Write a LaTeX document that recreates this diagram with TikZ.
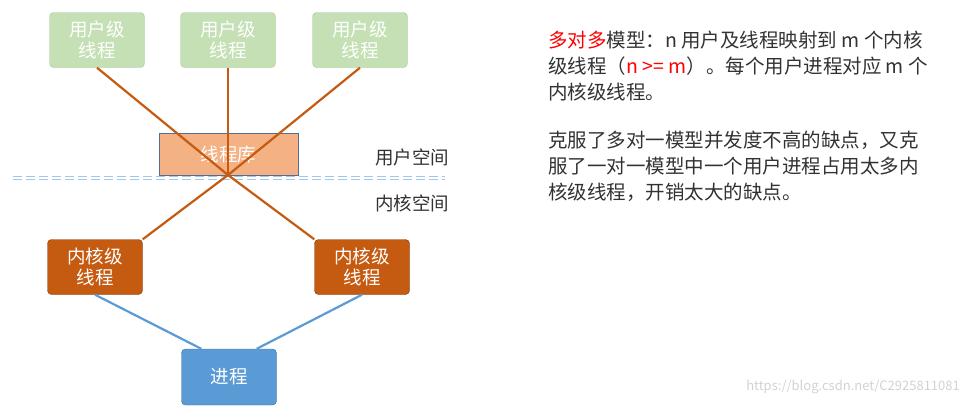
\documentclass[tikz,border=0pt]{standalone}
\usepackage{fontspec}
\setmainfont{Noto Sans CJK SC}
\begin{document}
\begin{tikzpicture}[x=1pt,y=-1pt,
 box/.style={draw,minimum width=95pt,minimum height=55pt,rounded corners=4pt,align=center,font=\fontsize{18.5}{21}\selectfont,inner sep=1pt},
 ubox/.style={box,fill={rgb,255:red,197;green,224;blue,180},draw={rgb,255:red,170;green,200;blue,160},text=white},
 kbox/.style={box,fill={rgb,255:red,197;green,90;blue,17},draw={rgb,255:red,120;green,60;blue,20},text=white},
 oline/.style={draw={rgb,255:red,197;green,90;blue,17},line width=2.2pt},
 bline/.style={draw={rgb,255:red,91;green,155;blue,213},line width=2.2pt},
 txt/.style={anchor=west,font=\fontsize{19.5}{22}\selectfont,text={rgb,255:red,50;green,50;blue,50},inner sep=0pt}]
\useasboundingbox (0,0) rectangle (968,416);
\node[ubox] (u1) at (97,40) {用户级\\线程};
\node[ubox] (u2) at (228,40) {用户级\\线程};
\node[ubox] (u3) at (360,40) {用户级\\线程};
\node[draw={rgb,255:red,80;green,110;blue,150},fill={rgb,255:red,244;green,177;blue,131},minimum width=139pt,minimum height=42pt,text=white,font=\fontsize{18.5}{21}\selectfont] (lib) at (228.5,154) {线程库};
\coordinate (x) at (228,175);
\draw[double={white},double distance=1.2pt,draw={rgb,255:red,160;green,200;blue,235},line width=1.2pt,dash pattern=on 9pt off 4pt] (13,178) -- (445,178);
\node[kbox] (k1) at (95,267) {内核级\\线程};
\node[kbox] (k2) at (362,267) {内核级\\线程};
\node[box,fill={rgb,255:red,91;green,155;blue,213},draw={rgb,255:red,60;green,110;blue,160},text=white,minimum height=56pt] (p) at (229,377) {进程};
\draw[oline] (u1.south) -- (x) -- (k2.north west);
\draw[oline] (u3.south) -- (x) -- (k1.north east);
\draw[oline] (u2.south) -- (x);
\node[txt,font=\fontsize{18.5}{21}\selectfont] (us) at (375,157) {用户空间};
\node[txt,font=\fontsize{18.5}{21}\selectfont] (ks) at (375,203) {内核空间};
\node[txt] (t1) at (548,40) {\textcolor{red}{多对多}模型：n 用户及线程映射到 m 个内核};
\node[txt] (t2) at (548,66) {级线程（\textcolor{red}{n >= m}）。每个用户进程对应 m 个};
\node[txt] (t3) at (548,92) {内核级线程。};
\node[txt] (t4) at (548,140) {克服了多对一模型并发度不高的缺点，又克};
\node[txt] (t5) at (548,166) {服了一对一模型中一个用户进程占用太多内};
\node[txt] (t6) at (548,192) {核级线程，开销太大的缺点。};
\draw[bline] (k1.south) -- ([xshift=20pt]p.north west);
\draw[bline] (k2.south) -- ([xshift=-20pt]p.north east);
\node[anchor=east,font=\fontsize{13}{15}\selectfont,text=gray!35,inner sep=0pt] (w) at (960,387) {https://blog.csdn.net/C2925811081};
\end{tikzpicture}
\end{document}
